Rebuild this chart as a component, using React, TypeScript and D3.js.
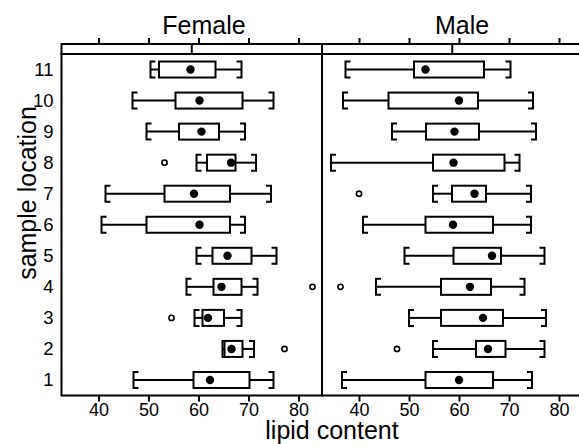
import React from "react";
import * as d3 from "d3";

// Sample locations on the y axis
const locations = [1, 2, 3, 4, 5, 6, 7, 8, 9, 10, 11];

// Female box statistics (index = location - 1)
const femaleLow = [46.9, 64.7, 59.1, 57.5, 59.5, 40.5, 41.3, 59.5, 49.5, 46.7, 50.3];
const femaleQ1 = [58.9, 65.1, 60.7, 62.9, 62.7, 49.5, 53.1, 61.6, 56.0, 55.3, 52.0];
const femaleMedian = [62.2, 66.5, 61.8, 64.5, 65.7, 60.1, 59.0, 66.4, 60.5, 60.1, 58.3];
const femaleQ3 = [70.1, 68.7, 65.0, 68.5, 70.5, 66.2, 66.2, 67.3, 64.0, 68.7, 63.3];
const femaleHigh = [74.9, 71.0, 68.5, 71.7, 75.5, 69.2, 74.4, 71.4, 69.2, 74.9, 68.5];
const femaleOutlierLoc = [2, 3, 4, 8];
const femaleOutlierVal = [77.1, 54.5, 82.7, 53.1];

// Male box statistics
const maleLow = [36.5, 54.7, 49.9, 43.3, 49.0, 40.7, 54.7, 34.3, 46.5, 36.7, 37.2];
const maleQ1 = [53.2, 63.3, 56.3, 56.3, 58.8, 53.2, 58.5, 54.7, 53.3, 45.8, 50.9];
const maleMedian = [59.9, 65.7, 64.7, 62.1, 66.5, 58.7, 63.0, 58.8, 59.0, 59.9, 53.2];
const maleQ3 = [66.7, 69.2, 68.7, 66.3, 68.3, 66.7, 65.3, 69.0, 63.9, 63.7, 64.9];
const maleHigh = [74.5, 77.0, 77.3, 73.0, 77.0, 74.3, 74.3, 72.0, 75.3, 74.7, 70.2];
const maleOutlierLoc = [2, 4, 7];
const maleOutlierVal = [47.5, 36.2, 39.9];

const xTicks = [40, 50, 60, 70, 80];
const panelNames = ["Female", "Male"];

const W = 579;
const H = 444;
const FONT = "Liberation Sans, Arial, Helvetica, sans-serif";

const panelTop = 54;
const panelBottom = 395.5;
const stripTop = 44;
const panelW = 260.5;
const panelLefts = [61.5, 322];

const yScale = d3.scaleLinear().domain([0.5, 11.5]).range([panelBottom, panelTop]);

type Stats = {
  low: number[];
  q1: number[];
  med: number[];
  q3: number[];
  high: number[];
  outLoc: number[];
  outVal: number[];
};

const panels: Stats[] = [
  {
    low: femaleLow,
    q1: femaleQ1,
    med: femaleMedian,
    q3: femaleQ3,
    high: femaleHigh,
    outLoc: femaleOutlierLoc,
    outVal: femaleOutlierVal,
  },
  {
    low: maleLow,
    q1: maleQ1,
    med: maleMedian,
    q3: maleQ3,
    high: maleHigh,
    outLoc: maleOutlierLoc,
    outVal: maleOutlierVal,
  },
];

const boxH = 16;
const capLen = 5;
const lw = 2;

function Panel({ idx }: { idx: number }) {
  const left = panelLefts[idx];
  const right = left + panelW;
  const x = d3.scaleLinear().domain([32.5, 84.6]).range([left, right]);
  const s = panels[idx];
  const mid = (left + right) / 2;
  const textX = [204, 462][idx];
  return (
    <g>
      {/* top ticks */}
      {xTicks.map((t) => (
        <line key={"tt" + t} x1={x(t)} x2={x(t)} y1={stripTop} y2={stripTop - 6} stroke="#000" strokeWidth={lw} />
      ))}
      {/* strip */}
      <rect x={left} y={stripTop} width={panelW} height={panelTop - stripTop} fill="#fff" stroke="#000" strokeWidth={lw} />
      <line x1={mid} x2={mid} y1={stripTop} y2={panelTop} stroke="#000" strokeWidth={lw} />
      <text x={textX} y={34} textAnchor="middle" fontSize={25} fontFamily={FONT} fill="#000">
        {panelNames[idx]}
      </text>
      {/* panel frame */}
      <rect x={left} y={panelTop} width={panelW} height={panelBottom - panelTop} fill="none" stroke="#000" strokeWidth={lw} />
      {/* bottom ticks and labels */}
      {xTicks.map((t) => (
        <g key={"bt" + t}>
          <line x1={x(t)} x2={x(t)} y1={panelBottom} y2={panelBottom + 6} stroke="#000" strokeWidth={lw} />
          <text x={x(t)} y={416} textAnchor="middle" fontSize={18} fontFamily={FONT} fill="#000">
            {t}
          </text>
        </g>
      ))}
      {/* boxes */}
      {locations.map((loc, i) => {
        const cy = yScale(loc);
        const top = cy - boxH / 2;
        const bot = cy + boxH / 2;
        const xl = x(s.low[i]);
        const xh = x(s.high[i]);
        const x1 = x(s.q1[i]);
        const x3 = x(s.q3[i]);
        return (
          <g key={"b" + loc} stroke="#000" strokeWidth={lw} fill="none">
            <line x1={xl} x2={x1} y1={cy} y2={cy} />
            <line x1={x3} x2={xh} y1={cy} y2={cy} />
            <path d={`M${xl + capLen},${top}H${xl}V${bot}H${xl + capLen}`} />
            <path d={`M${xh - capLen},${top}H${xh}V${bot}H${xh - capLen}`} />
            <rect x={x1} y={top} width={x3 - x1} height={boxH} fill="#fff" />
            <circle cx={x(s.med[i])} cy={cy} r={4.2} fill="#000" stroke="none" />
          </g>
        );
      })}
      {s.outLoc.map((loc, i) => (
        <circle
          key={"o" + i}
          cx={x(s.outVal[i])}
          cy={yScale(loc)}
          r={2.6}
          fill="#fff"
          stroke="#000"
          strokeWidth={1.6}
        />
      ))}
    </g>
  );
}

export default function App() {
  return (
    <svg
      width={W}
      height={H}
      style={{ position: "absolute", left: 0, top: 0, background: "#fff" }}
    >
      <rect x={0} y={0} width={W} height={H} fill="#fff" />
      {locations.map((loc) => (
        <text
          key={"yl" + loc}
          x={53.5}
          y={yScale(loc)}
          dy="0.35em"
          textAnchor="end"
          fontSize={18.5}
          fontFamily={FONT}
          fill="#000"
        >
          {loc}
        </text>
      ))}
      <Panel idx={0} />
      <Panel idx={1} />
      <text
        transform={`translate(36,193) rotate(-90)`}
        textAnchor="middle"
        fontSize={25}
        fontFamily={FONT}
        fill="#000"
      >
        sample location
      </text>
      <text x={332} y={439} textAnchor="middle" fontSize={25} fontFamily={FONT} fill="#000">
        lipid content
      </text>
    </svg>
  );
}
